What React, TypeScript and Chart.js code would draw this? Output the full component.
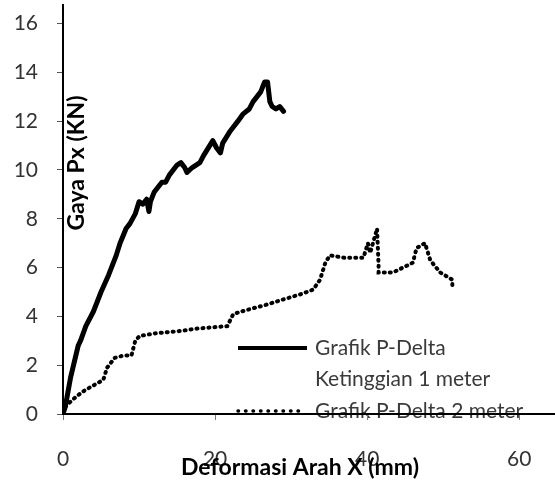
import React, { useEffect, useRef } from "react";
import { Chart, registerables } from "chart.js";
Chart.register(...registerables);

const solidX = [0, 0.3, 1, 2, 2.3, 3, 4, 5, 6, 7, 7.5, 8.3, 8.8, 9.5, 10, 10.5, 11, 11.3, 11.5, 12, 13, 13.5, 14, 15, 15.5, 16, 16.3, 17, 18, 18.5, 19.7, 20.2, 20.7, 21, 22, 23, 23.7, 24.5, 25, 26, 26.5, 26.9, 27.2, 27.5, 28, 28.5, 29];
const solidY = [0, 0.3, 1.5, 2.8, 3.0, 3.6, 4.2, 5.0, 5.7, 6.5, 7.0, 7.6, 7.8, 8.2, 8.7, 8.6, 8.8, 8.3, 8.7, 9.1, 9.5, 9.5, 9.8, 10.2, 10.3, 10.1, 9.9, 10.1, 10.3, 10.6, 11.2, 10.9, 10.7, 11.1, 11.6, 12.0, 12.3, 12.5, 12.8, 13.2, 13.6, 13.6, 12.8, 12.6, 12.5, 12.6, 12.4];

const dotX = [0.3, 1.3, 2.5, 3.6, 5.3, 5.8, 6.8, 8, 9, 9.5, 10.1, 12, 15.4, 17.6, 21.6, 22.4, 24.6, 27, 29, 31.2, 32.9, 33.8, 34.5, 35.1, 37, 39.5, 40.1, 40.4, 41.3, 41.5, 41.5, 43.4, 46, 46.5, 47.6, 48.3, 49.6, 51.2, 51.2];
const dotY = [0.3, 0.6, 0.9, 1.1, 1.4, 1.9, 2.3, 2.4, 2.4, 3.0, 3.2, 3.3, 3.4, 3.5, 3.6, 4.1, 4.3, 4.5, 4.7, 4.9, 5.1, 5.5, 6.2, 6.5, 6.4, 6.4, 7.0, 6.6, 7.6, 6.1, 5.8, 5.8, 6.2, 6.8, 7.0, 6.3, 5.8, 5.5, 5.2];

const xTicks = [0, 20, 40, 60];
const yTicks = [0, 2, 4, 6, 8, 10, 12, 14, 16];
const xTitle = "Deformasi Arah X (mm)";
const yTitle = "Gaya Px (KN)";
const legend1a = "Grafik P-Delta";
const legend1b = "Ketinggian 1 meter";
const legend2 = "Grafik P-Delta 2 meter";

const FONT = "Lato";

export default function App() {
  const ref = useRef<HTMLCanvasElement>(null);
  useEffect(() => {
    document.body.style.margin = "0";
    const canvas = ref.current!;
    const overlay = {
      id: "overlay",
      beforeDraw(chart: any) {
        const ctx = chart.ctx;
        const xs = chart.scales.x;
        const ys = chart.scales.y;
        ctx.save();
        const lx0 = xs.left + 175, lx1 = lx0 + 69;
        const y1 = ys.bottom - 66, y2 = ys.bottom - 3;
        ctx.strokeStyle = "#000";
        ctx.lineWidth = 4;
        ctx.beginPath(); ctx.moveTo(lx0, y1); ctx.lineTo(lx1, y1); ctx.stroke();
        ctx.setLineDash([0.5, 7]); ctx.lineCap = "round"; ctx.lineWidth = 3.5;
        ctx.beginPath(); ctx.moveTo(lx0, y2); ctx.lineTo(lx1 - 6, y2); ctx.stroke();
        ctx.setLineDash([]);
        ctx.fillStyle = "#3a3a3a";
        ctx.font = `21px ${FONT}`;
        ctx.textBaseline = "middle";
        ctx.textAlign = "left";
        ctx.fillText(legend1a, lx1 + 8, y1);
        ctx.fillText(legend1b, lx1 + 8, y1 + 31);
        ctx.fillText(legend2, lx1 + 8, y2);
        ctx.restore();
      },
      afterDraw(chart: any) {
        const ctx = chart.ctx;
        const xs = chart.scales.x;
        const ys = chart.scales.y;
        ctx.save();
        ctx.fillStyle = "#000";
        ctx.font = `bold 23px ${FONT}`;
        ctx.textAlign = "center";
        ctx.textBaseline = "middle";
        ctx.fillText(xTitle, 300, ys.bottom + 54);
        ctx.translate(xs.left + 14, 163);
        ctx.rotate(-Math.PI / 2);
        ctx.fillText(yTitle, 0, 0);
        ctx.restore();
      },
    };
    const chart = new Chart(canvas, {
      type: "scatter",
      data: {
        datasets: [
          {
            label: legend1a + " " + legend1b,
            data: solidX.map((x, i) => ({ x, y: solidY[i] })),
            showLine: true,
            borderColor: "#000",
            borderWidth: 5,
            pointRadius: 0,
            tension: 0,
            borderJoinStyle: "round",
            borderCapStyle: "round",
          },
          {
            label: legend2,
            data: dotX.map((x, i) => ({ x, y: dotY[i] })),
            showLine: true,
            borderColor: "#000",
            borderWidth: 4,
            borderDash: [1, 5],
            borderCapStyle: "round",
            pointRadius: 0,
            tension: 0,
          },
        ],
      },
      options: {
        animation: false,
        responsive: false,
        maintainAspectRatio: false,
        layout: { padding: { top: 5, right: 0, left: 0, bottom: 0 } },
        plugins: { legend: { display: false }, tooltip: { enabled: false } },
        scales: {
          x: {
            type: "linear",
            min: 0,
            max: 64.7,
            afterBuildTicks: (s: any) => { s.ticks = xTicks.map((v) => ({ value: v })); },
            afterFit: (s: any) => { s.height = 67; s.paddingLeft = 0; s.paddingRight = 0; },
            border: { color: "#000", width: 2 },
            grid: { drawOnChartArea: false, drawTicks: true, tickLength: 6, color: "#777", lineWidth: 1 },
            ticks: { color: "#333", font: { family: FONT, size: 21 }, padding: 27, maxRotation: 0 },
          },
          y: {
            type: "linear",
            min: 0,
            max: 16.76,
            afterBuildTicks: (s: any) => { s.ticks = yTicks.map((v) => ({ value: v })); },
            afterFit: (s: any) => { s.width = 63; s.paddingTop = 0; s.paddingBottom = 0; },
            border: { color: "#000", width: 2 },
            grid: { drawOnChartArea: false, drawTicks: true, tickLength: 6, color: "#555", lineWidth: 1 },
            ticks: { color: "#333", font: { family: FONT, size: 21 }, padding: 19 },
          },
        },
      },
      plugins: [overlay],
    } as any);
    return () => chart.destroy();
  }, []);
  return (
    <div style={{ position: "absolute", left: 0, top: 0, width: 555, height: 481 }}>
      <canvas ref={ref} width={555} height={481} />
    </div>
  );
}
